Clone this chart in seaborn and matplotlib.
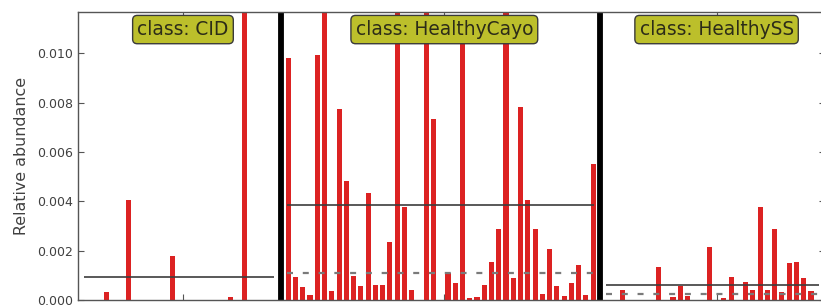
import numpy as np
import pandas as pd
import matplotlib
matplotlib.use("Agg")
import matplotlib.pyplot as plt
import matplotlib.transforms as mtransforms
import seaborn as sns

# ---------------- data ----------------
classes = ["CID", "HealthyCayo", "HealthySS"]

cid_values = [0, 0, 0, 0.00031, 0, 0, 0.00405, 0, 0, 0, 0, 0, 0.00178, 0,
              0, 0, 0, 0, 0, 0, 0.00013, 0, 0.0188, 0, 0, 0, 0]

cayo_values = [0.00980, 0.00092, 0.00051, 0.00022, 0.00993, 0.0180, 0.00037,
               0.00773, 0.00482, 0.00098, 0.00057, 0.00432, 0.00061, 0.00061,
               0.00234, 0.0150, 0.00376, 0.00041, 0, 0.0170, 0.00732, 0,
               0.00108, 0.00068, 0.0112, 0.00010, 0.00011, 0.00062, 0.00153,
               0.00286, 0.0160, 0.00090, 0.00781, 0.00405, 0.00286, 0.00026,
               0.00206, 0.00056, 0.00015, 0.00068, 0.00142, 0.00019, 0.00551]

ss_values = [0, 0, 0.00041, 0, 0, 0, 0, 0.00132, 0, 0.00014, 0.00057, 0.00016,
             0, 0, 0.00215, 0, 0.00007, 0.00093, 0, 0.00074, 0.00041, 0.00378,
             0.00041, 0.00287, 0.00034, 0.00149, 0.00155, 0.00090, 0.00037, 0]

y_ticks = [0.000, 0.002, 0.004, 0.006, 0.008, 0.010]
y_tick_labels = ["0.000", "0.002", "0.004", "0.006", "0.008", "0.010"]
y_label = "Relative abundance"

# ---------------- style ----------------
sns.set_style("white")
plt.rcParams["font.family"] = ["DejaVu Sans"]

RED = "#dc2222"
BOX = "#bcbf2b"
FRAME = "#555555"
TXT = "#404040"

W, H = 821, 306
fig = plt.figure(figsize=(W / 100, H / 100), dpi=100)
fig.patch.set_facecolor("white")

px_per_unit = 7.26
left_px, top_px, bottom_px = 77.7, 12, 300
x_max = 103
right_px = left_px + x_max * px_per_unit
ax = fig.add_axes([left_px / W, 1 - bottom_px / H,
                   (right_px - left_px) / W, (bottom_px - top_px) / H])

# build long table: one gap slot between classes
rows, groups, seps = [], [], []
pos = 1
for name, vals in zip(classes, [cid_values, cayo_values, ss_values]):
    start = pos
    for v in vals:
        rows.append((pos, v, name))
        pos += 1
    groups.append((name, start, pos - 1, np.array(vals)))
    seps.append(pos)
    pos += 1
df = pd.DataFrame(rows, columns=["pos", "value", "cls"])

sns.barplot(data=df, x="pos", y="value", native_scale=True, width=0.7,
            color=RED, saturation=1, linewidth=0,
            errorbar=None, ax=ax, zorder=2)

# class separators
for s in seps[:-1]:
    ax.axvline(s, color="black", lw=4.2, zorder=4)

# mean (solid) and median (dashed) per class
for name, start, end, vals in groups:
    m = vals.mean()
    md = np.median(vals)
    ax.plot([start - 0.2, end + 0.1], [m, m], color="#3c3c3c", lw=1.2,
            zorder=5, solid_capstyle="butt")
    if md > 0:
        ax.plot([start - 0.2, end + 0.1], [md, md], color="#7a7a7a", lw=1.6,
                dashes=(2.7, 4.4), zorder=5)

# class labels
trans = mtransforms.blended_transform_factory(ax.transData, ax.transAxes)
for name, start, end, vals in groups:
    xc = (start + end) / 2 + 0.5
    ax.text(xc, 0.939, f"class: {name}", transform=trans, ha="center",
            va="center", fontsize=13.4, color="#2c2c18", zorder=10,
            bbox=dict(boxstyle="round,pad=0.25", fc=BOX, ec="#3a3a3a", lw=1.0))

ax.set_xlim(0, x_max)
ax.set_ylim(0, 0.01167)
ax.set_yticks(y_ticks)
ax.set_yticklabels(y_tick_labels)
ax.set_xticks([(g[1] + g[2]) / 2 + 0.5 for g in groups])
ax.set_xticklabels([])
ax.set_xlabel("")
ax.set_ylabel(y_label, fontsize=11.4, color=TXT)
ax.yaxis.set_label_coords((21.5 - left_px) / (right_px - left_px), 0.5)
ax.yaxis.label.set_va("center")

ax.tick_params(axis="both", direction="in", length=4, width=0.8,
               color=FRAME, labelcolor=TXT, labelsize=9, pad=3.5,
               top=True, right=True, bottom=True, left=True)
for sp in ax.spines.values():
    sp.set_visible(True)
    sp.set_color(FRAME)
    sp.set_linewidth(1.0)
    sp.set_zorder(6)

fig.savefig("out.png", dpi=100)
